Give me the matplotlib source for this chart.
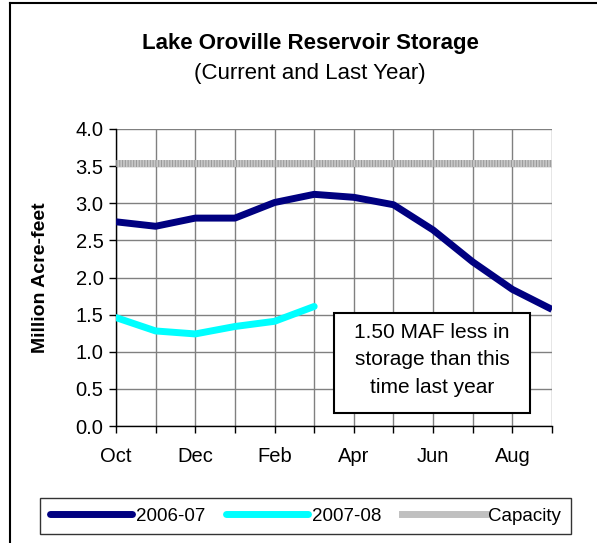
import matplotlib
matplotlib.use("Agg")
import matplotlib.pyplot as plt
from matplotlib.lines import Line2D
from matplotlib.patches import Rectangle

months = ["Oct", "Nov", "Dec", "Jan", "Feb", "Mar", "Apr", "May", "Jun", "Jul", "Aug", "Sep"]
storage_2006_07 = [2.75, 2.69, 2.80, 2.80, 3.01, 3.12, 3.08, 2.98, 2.64, 2.21, 1.84, 1.57]
storage_2007_08 = [1.46, 1.28, 1.24, 1.34, 1.41, 1.61]
capacity = 3.54
yticks = [0.0, 0.5, 1.0, 1.5, 2.0, 2.5, 3.0, 3.5, 4.0]

plt.rcParams['font.family'] = ['Liberation Sans', 'DejaVu Sans']

W, H = 597, 543
fig = plt.figure(figsize=(W / 100, H / 100), dpi=100)

# axes in pixel coords: left 116, right 552, top 129, bottom 426
ax = fig.add_axes([116 / W, 1 - 426 / H, (552 - 116) / W, (426 - 129) / H])

x = list(range(len(months)))
ax.set_xlim(0, len(months) - 1)
ax.set_ylim(0, 4.0)

ax.grid(True, which='both', axis='both', color='#808080', linewidth=1.0)
ax.set_axisbelow(True)

ax.plot(x, [capacity] * len(months), color='#c8c8c8', linewidth=5, solid_capstyle='butt', zorder=3)
ax.plot(x, [capacity] * len(months), color='#9a9a9a', linewidth=5, linestyle=(0, (0.15, 0.25)),
        solid_capstyle='butt', zorder=3)
ax.plot(x, storage_2006_07, color='#000080', linewidth=5, solid_capstyle='butt',
        solid_joinstyle='round', zorder=4)
ax.plot(x[:len(storage_2007_08)], storage_2007_08, color='#00ffff', linewidth=5,
        solid_capstyle='round', solid_joinstyle='round', zorder=4)

ax.set_yticks(yticks)
ax.set_yticklabels([f"{v:.1f}" for v in yticks], fontsize=14.5)
ax.set_xticks(x, minor=True)
ax.set_xticks(x[::2])
ax.set_xticklabels(months[::2], fontsize=14.5)
ax.tick_params(axis='x', which='both', direction='out', length=5, width=1, color='black', pad=10)
ax.tick_params(axis='y', direction='out', length=5, width=1, color='black', pad=4)

for side in ['top', 'right']:
    ax.spines[side].set_visible(False)
for side in ['left', 'bottom']:
    ax.spines[side].set_color('black')
    ax.spines[side].set_linewidth(1.0)

ax.set_ylabel("Million Acre-feet", fontsize=14, fontweight='bold')
ax.yaxis.set_label_coords((49 - 116) / 436, 0.5)

fig.text(310 / W, 1 - 43 / H, "Lake Oroville Reservoir Storage", ha='center', va='center',
         fontsize=16, fontweight='bold')
fig.text(310 / W, 1 - 73 / H, "(Current and Last Year)", ha='center', va='center', fontsize=16)

# annotation box
ax.add_patch(Rectangle((5.5, 0.175), 4.94, 1.345, facecolor='white', edgecolor='black',
                       linewidth=1.5, zorder=6))
ax.text(7.97, 0.89, "1.50 MAF less in\nstorage than this\ntime last year", ha='center', va='center',
        fontsize=15, linespacing=1.55, zorder=7)

# legend
handles = [
    Line2D([0], [0], color='#000080', linewidth=5, solid_capstyle='round'),
    Line2D([0], [0], color='#00ffff', linewidth=5, solid_capstyle='round'),
    Line2D([0], [0], color='#c0c0c0', linewidth=5),
]
leg = fig.legend(handles, ["2006-07", "2007-08", "Capacity"], ncol=3, loc='center',
                 bbox_to_anchor=(305.5 / W, 1 - 516 / H), fontsize=13.5, handlelength=4.4,
                 handletextpad=0.2, columnspacing=1.1, frameon=True, fancybox=False,
                 borderpad=0.5, borderaxespad=0)
leg.get_frame().set_edgecolor('black')
leg.get_frame().set_linewidth(1.0)

# outer border (left and top visible)
fig.add_artist(Line2D([9.5 / W, 9.5 / W], [0, 1 - 3 / H], color='black', linewidth=1.5,
                      transform=fig.transFigure))
fig.add_artist(Line2D([9.5 / W, 1], [1 - 3 / H, 1 - 3 / H], color='black', linewidth=1.5,
                      transform=fig.transFigure))

fig.savefig("out.png", dpi=100)
